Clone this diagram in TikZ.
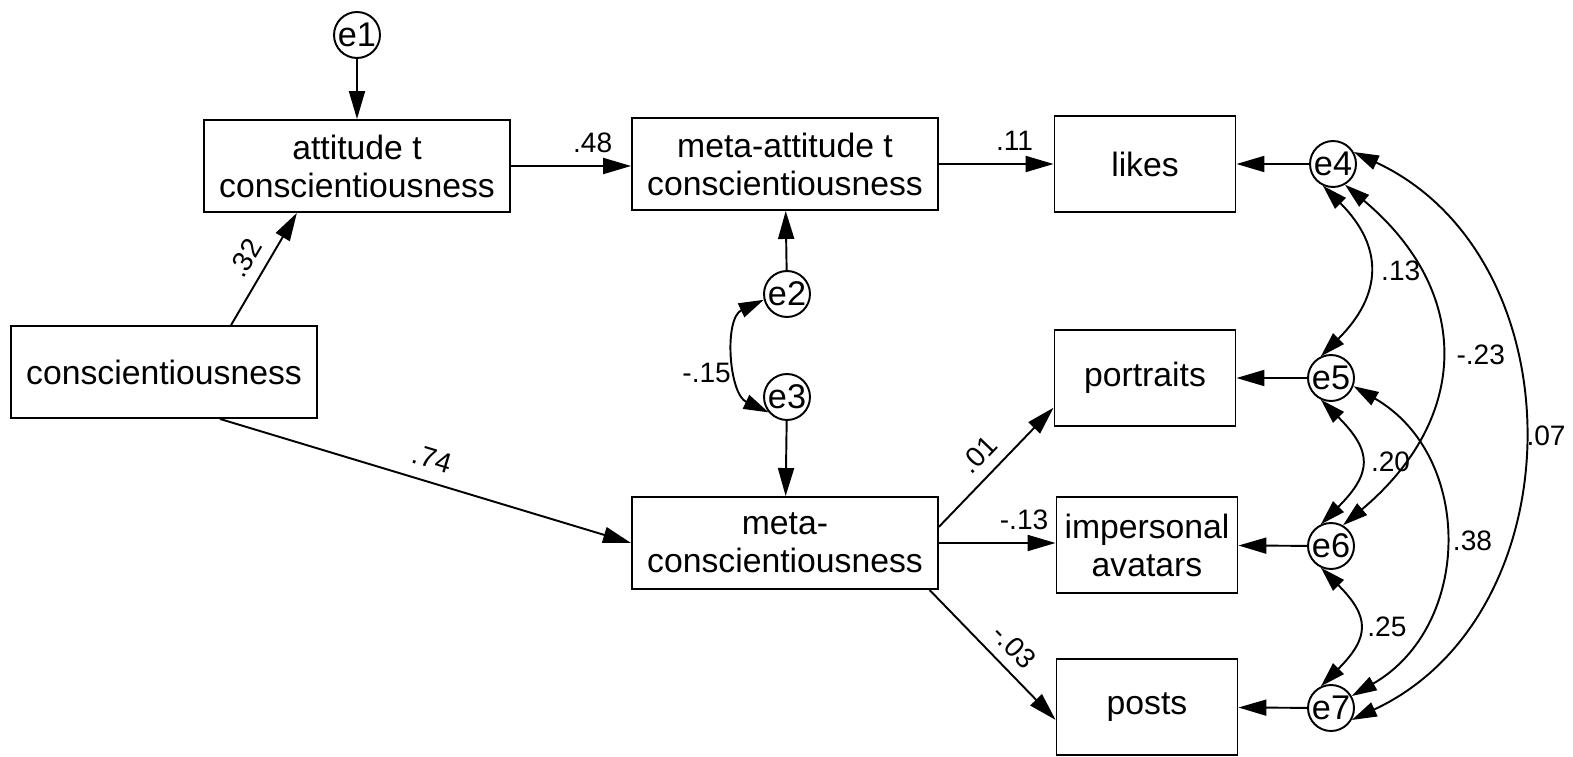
\documentclass[tikz,border=0pt]{standalone}
\usepackage{fontspec}
\setmainfont{Liberation Sans}
\usetikzlibrary{arrows.meta}
\tikzset{
  obsbox/.style={draw,line width=1.1pt,minimum width=6.12cm,minimum height=1.84cm,
    align=center,inner sep=0pt,font=\fontsize{19.2}{21.6}\selectfont},
  smallbox/.style={obsbox,minimum width=3.62cm,minimum height=1.92cm},
  errvar/.style={draw,circle,line width=1.1pt,minimum size=0.92cm,inner sep=0pt,
    font=\fontsize{19.5}{21}\selectfont},
  coef/.style={inner sep=1pt,font=\fontsize{16}{18}\selectfont},
  regpath/.style={-{Triangle[length=0.56cm,width=0.32cm]},line width=1.1pt},
  covpath/.style={{Triangle[length=0.5cm,width=0.3cm]}-{Triangle[length=0.5cm,width=0.3cm]},line width=1.1pt}
}
\begin{document}
\begin{tikzpicture}[x=0.02cm,y=0.02cm]
\useasboundingbox(0,0)rectangle(1573,-757);
%
\node[obsbox](consc)at(164,-372){conscientiousness};
\node[obsbox](att)at(357,-166){attitude t\\conscientiousness};
\node[obsbox](metaatt)at(785,-164){meta-attitude t\\conscientiousness};
\node[obsbox](metac)at(785,-543){meta-\\conscientiousness};
\node[smallbox](likes)at(1145,-164){likes};
\node[smallbox](portr)at(1145,-378){portraits};
\node[smallbox](imper)at(1147,-545){impersonal\\avatars};
\node[smallbox](posts)at(1147,-707){posts};
%
\node[errvar](e1)at(357,-35){e1};
\node[errvar](e2)at(787,-294){e2};
\node[errvar](e3)at(787,-397){e3};
\node[errvar](e4)at(1333,-164){e4};
\node[errvar](e5)at(1331,-378){e5};
\node[errvar](e6)at(1331,-546){e6};
\node[errvar](e7)at(1331,-708){e7};
%
\draw[regpath](e1)--(att);
\draw[regpath](consc.35)--node[coef,sloped,above=5pt]{.32}(att.-142);
\draw[regpath](consc.-40)--node[coef,sloped,above=6pt]{.74}(metac.west);
\draw[regpath](att.east)--node[coef,above=6pt,pos=0.68]{.48}(att.east-|metaatt.west);
\draw[regpath](metaatt.east)--node[coef,above=6pt,pos=0.66]{.11}(likes.west);
\draw[regpath](e2)--(metaatt);
\draw[regpath](e3)--(metac);
\draw[regpath](metac.6)--node[coef,sloped,above=5pt,pos=0.48]{.01}(portr.198);
\draw[regpath](metac.east)--node[coef,above=6pt,pos=0.73]{-.13}(metac.east-|imper.west);
\draw[regpath](metac.-18)--node[coef,sloped,above=5pt,pos=0.55]{-.03}(posts.188);
\draw[regpath](e4)--(likes);
\draw[regpath](e5)--(portr);
\draw[regpath](e6)--(imper);
\draw[regpath](e7)--(posts);
%
\draw[covpath](e2.194)to[out=205,in=155]node[coef,left=3pt,pos=0.62]{-.15}(e3.-140);
\draw[covpath](e4.-115)to[out=-45,in=45,looseness=1.3]node[coef,right=6pt]{.13}(e5.115);
\draw[covpath](e4.-60)to[out=-40,in=40,looseness=1.25]node[coef,right=8pt]{-.23}(e6.60);
\draw[covpath](e4.30)to[out=-25,in=25,looseness=1.12]node[coef,right=1pt]{.07}(e7.-30);
\draw[covpath](e5.-115)to[out=-45,in=45,looseness=1.5]node[coef,right=5pt]{.20}(e6.115);
\draw[covpath](e5.-20)to[out=-30,in=30,looseness=1.15]node[coef,right=4pt]{.38}(e7.30);
\draw[covpath](e6.-115)to[out=-45,in=45,looseness=1.5]node[coef,right=4pt]{.25}(e7.115);
\end{tikzpicture}
\end{document}
